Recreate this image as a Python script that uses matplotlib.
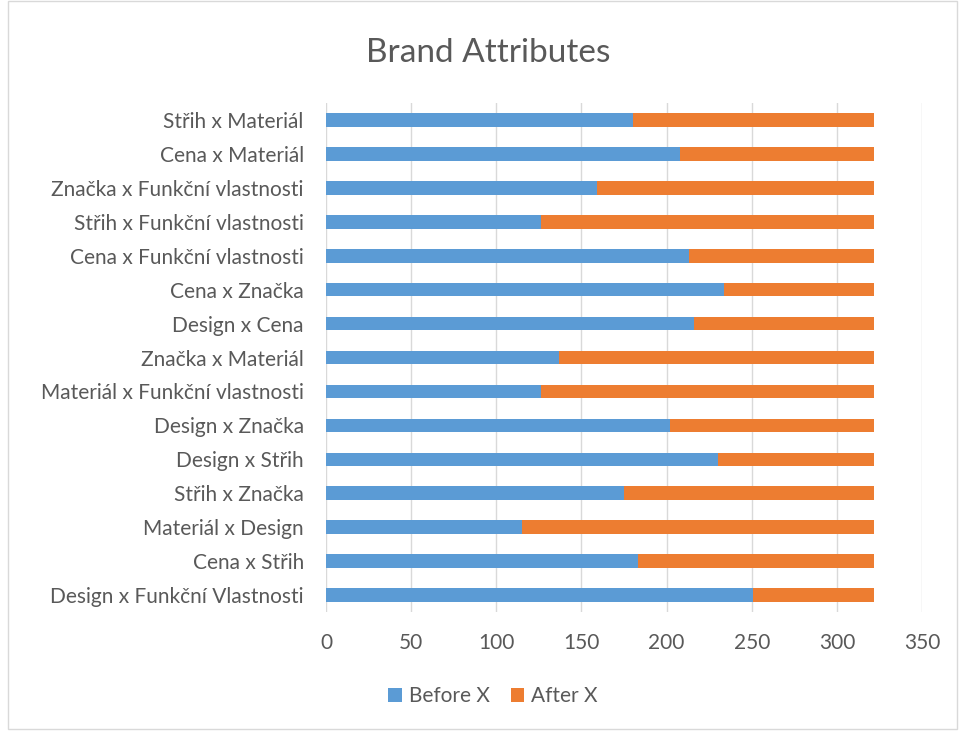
import matplotlib
matplotlib.use("Agg")
import matplotlib.pyplot as plt
from matplotlib.patches import Rectangle

categories = [
    "Design x Funkční Vlastnosti",
    "Cena x Střih",
    "Materiál x Design",
    "Střih x Značka",
    "Design x Střih",
    "Design x Značka",
    "Materiál x Funkční vlastnosti",
    "Značka x Materiál",
    "Design x Cena",
    "Cena x Značka",
    "Cena x Funkční vlastnosti",
    "Střih x Funkční vlastnosti",
    "Značka x Funkční vlastnosti",
    "Cena x Materiál",
    "Střih x Materiál",
]
before_x = [251, 183, 115, 175, 230, 202, 126, 137, 216, 234, 213, 126, 159, 208, 180]
after_x = [71, 139, 207, 147, 92, 120, 196, 185, 106, 88, 109, 196, 163, 114, 142]
xticks = [0, 50, 100, 150, 200, 250, 300, 350]

blue = "#5b9bd5"
orange = "#ed7d31"
text_c = "#595959"
grid_c = "#d9d9d9"
font = "Lato"

fig = plt.figure(figsize=(9.59, 7.31), dpi=100)
ax = fig.add_axes([0.340, 0.1628, 0.6214, 0.6962])

y = list(range(len(categories)))
ax.barh(y, before_x, height=0.4, color=blue, label="Before X", zorder=3)
ax.barh(y, after_x, left=before_x, height=0.4, color=orange, label="After X", zorder=3)

ax.set_xlim(0, 350)
ax.set_ylim(-0.5, len(categories) - 0.5)
ax.set_xticks(xticks)
ax.set_yticks(y)
ax.set_yticklabels(categories)
ax.xaxis.grid(True, color=grid_c, linewidth=1, zorder=0)
ax.set_axisbelow(True)
for s in ax.spines.values():
    s.set_visible(False)
ax.tick_params(axis="both", length=0, colors=text_c, labelsize=15)
ax.tick_params(axis="x", pad=15)
ax.tick_params(axis="y", pad=16)
for lbl in ax.get_xticklabels() + ax.get_yticklabels():
    lbl.set_fontfamily(font)
    lbl.set_color(text_c)

fig.text(0.509, 0.928, "Brand Attributes", ha="center", va="center",
         fontsize=24, color=text_c, family=font)

leg = fig.legend(loc="center", bbox_to_anchor=(0.514, 0.048), ncol=2, frameon=False,
                 prop={"family": font, "size": 15}, handlelength=0.65, handleheight=0.65,
                 columnspacing=1.0, handletextpad=0.35)
for t in leg.get_texts():
    t.set_color(text_c)

fig.patches.append(Rectangle((0.008, 0.003), 0.99, 0.996, transform=fig.transFigure,
                             fill=False, edgecolor=grid_c, linewidth=1))

fig.savefig("out.png", dpi=100)
